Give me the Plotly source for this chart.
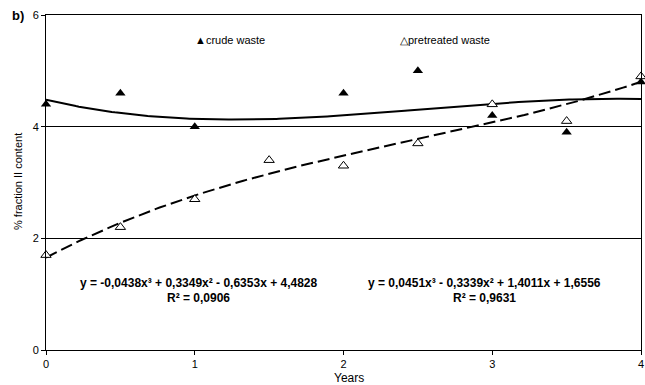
import numpy as np
import plotly.graph_objects as go

years = [0, 0.5, 1, 1.5, 2, 2.5, 3, 3.5, 4]
crude_x = [0, 0.5, 1, 2, 2.5, 3, 3.5, 4]
crude_y = [4.4, 4.6, 4.0, 4.6, 5.0, 4.2, 3.9, 4.8]
pre_x = [0, 0.5, 1, 1.5, 2, 2.5, 3, 3.5, 4]
pre_y = [1.7, 2.2, 2.7, 3.4, 3.3, 3.7, 4.4, 4.1, 4.9]

# trendline coefficients as printed on the chart (highest power first)
crude_coef = [-0.0438, 0.3349, -0.6353, 4.4828]
pre_coef = [0.0451, -0.3339, 1.4011, 1.6556]

xs = np.linspace(0, 4, 200)
font = "Liberation Sans, Arial, sans-serif"

fig = go.Figure()
fig.add_trace(go.Scatter(x=xs, y=np.polyval(crude_coef, xs), mode="lines",
                         line=dict(color="black", width=2), showlegend=False))
fig.add_trace(go.Scatter(x=xs, y=np.polyval(pre_coef, xs), mode="lines",
                         line=dict(color="black", width=2, dash="12px,5px"), showlegend=False))
fig.add_trace(go.Scatter(x=crude_x, y=crude_y, mode="markers",
                         marker=dict(symbol="triangle-up", size=9, color="black"),
                         showlegend=False, cliponaxis=False))
fig.add_trace(go.Scatter(x=pre_x, y=pre_y, mode="markers",
                         marker=dict(symbol="triangle-up", size=9, color="white",
                                     line=dict(color="black", width=1)),
                         showlegend=False, cliponaxis=False))

L, R, T, B = 46, 4, 15, 35
W, H = 645, 385
pw, ph = W - L - R, H - T - B

ann = [
    dict(x=193, y=40, text="▲crude waste", xanchor="left", size=11, bold=False, angle=0),
    dict(x=398, y=40, text="△pretreated waste", xanchor="left", size=11, bold=False, angle=0),
    dict(x=199, y=283, text="y = -0,0438x³ + 0,3349x² - 0,6353x + 4,4828", xanchor="center", size=12, bold=True, angle=0),
    dict(x=199, y=298, text="R² = 0,0906", xanchor="center", size=12, bold=True, angle=0),
    dict(x=484, y=283, text="y = 0,0451x³ - 0,3339x² + 1,4011x + 1,6556", xanchor="center", size=12, bold=True, angle=0),
    dict(x=484, y=298, text="R² = 0,9631", xanchor="center", size=12, bold=True, angle=0),
    dict(x=349, y=378, text="Years", xanchor="center", size=12, bold=False, angle=0),
    dict(x=18, y=15, text="b)", xanchor="center", size=13, bold=True, angle=0),
    dict(x=18, y=182, text="% fraction II content", xanchor="center", size=11, bold=False, angle=-90),
]
annotations = []
for a in ann:
    t = "<b>%s</b>" % a["text"] if a["bold"] else a["text"]
    annotations.append(dict(x=(a["x"] - L) / pw, y=(H - B - a["y"]) / ph,
                            xref="paper", yref="paper", textangle=a["angle"],
                            text=t, showarrow=False, xanchor=a["xanchor"], yanchor="middle",
                            font=dict(family=font, size=a["size"], color="black")))

fig.update_layout(
    width=W, height=H,
    margin=dict(l=L, r=R, t=T, b=B, autoexpand=False),
    paper_bgcolor="white", plot_bgcolor="white",
    font=dict(family=font, size=11, color="black"),
    annotations=annotations,
    xaxis=dict(range=[0, 4], tickvals=[0, 1, 2, 3, 4], ticks="outside", ticklen=4,
               tickcolor="black", showgrid=False, zeroline=False, showline=True,
               linecolor="black", linewidth=1, mirror=True, automargin=False,
               tickfont=dict(family=font, size=11, color="black")),
    yaxis=dict(range=[0, 6], tickvals=[0, 2, 4, 6], ticks="outside", ticklen=4,
               tickcolor="black", showgrid=True, gridcolor="black", gridwidth=1,
               zeroline=False, showline=True, linecolor="black", linewidth=1, mirror=True,
               automargin=False,
               tickfont=dict(family=font, size=11, color="black")),
)
fig.write_html("out.html", config={"displayModeBar": False},
               post_script="document.body.style.margin='0';document.body.style.overflow='hidden';")
